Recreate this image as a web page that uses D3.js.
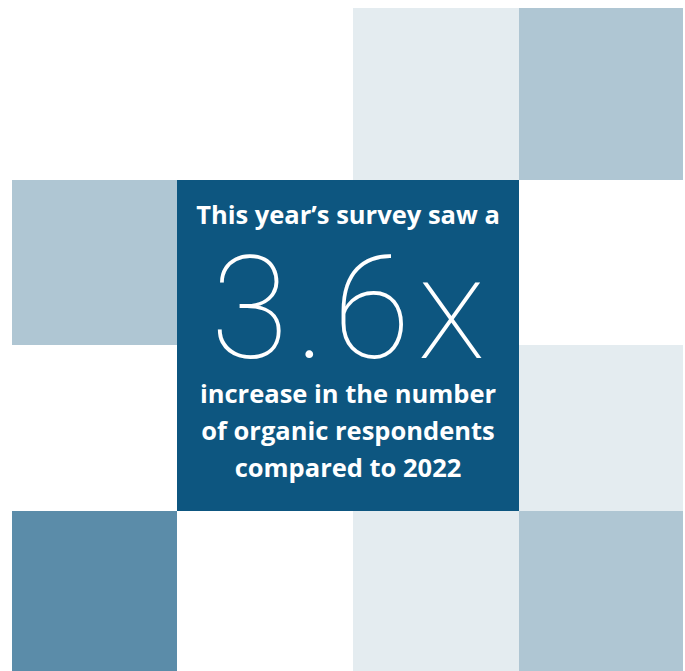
<!DOCTYPE html>
<html><head><meta charset="utf-8">
<script src="https://cdn.jsdelivr.net/npm/d3@7"></script>
<style>html,body{margin:0;padding:0;background:#fff;}svg{display:block;}</style>
</head><body>
<script>
// tile grid (row, col, shade) and the highlight box
const tileRow   = [0, 0, 1, 2, 3, 3, 3];
const tileCol   = [2, 3, 0, 3, 0, 2, 3];
const tileShade = ["pale", "light", "light", "pale", "mid", "pale", "light"];
const shadeNames  = ["pale", "light", "mid", "dark"];
const shadeColors = ["#e4ecf0", "#afc6d3", "#5b8ca9", "#0d5680"];
const headline    = ["This year\u2019s survey saw a"];
const bigValue    = [3.6];
const bigSuffix   = ["x"];
const bodyLines   = ["increase in the number", "of organic respondents", "compared to 2022"];

const W = 685, H = 671;
const svg = d3.select("body").append("svg").attr("width", W).attr("height", H);
const xEdge = d3.scaleOrdinal().domain([0,1,2,3,4]).range([12,177,353,519,683]);
const yEdge = d3.scaleOrdinal().domain([0,1,2,3,4]).range([8,180,345,511,671]);
const color = d3.scaleOrdinal().domain(shadeNames).range(shadeColors);

const tiles = tileRow.map((r,i)=>({r, c: tileCol[i], s: tileShade[i]}));
svg.selectAll("rect.tile").data(tiles).join("rect").attr("class","tile")
  .attr("x", d=>xEdge(d.c)).attr("y", d=>yEdge(d.r))
  .attr("width", d=>xEdge(d.c+1)-xEdge(d.c)).attr("height", d=>yEdge(d.r+1)-yEdge(d.r))
  .attr("fill", d=>color(d.s));

// highlight box spanning cols 1-2, rows 1-2
const box = {c0:1, c1:3, r0:1, r1:3};
svg.append("rect").attr("x", xEdge(box.c0)).attr("y", yEdge(box.r0))
  .attr("width", xEdge(box.c1)-xEdge(box.c0)).attr("height", yEdge(box.r1)-yEdge(box.r0))
  .attr("fill", color("dark"));

const cx = (xEdge(box.c0)+xEdge(box.c1))/2;
const font = "'Open Sans', Roboto, sans-serif";
svg.selectAll("text.head").data(headline).join("text").attr("class","head")
  .attr("x", cx).attr("y", 224).attr("text-anchor","middle")
  .attr("fill","#fff").attr("font-family",font).attr("font-weight",700).attr("font-size",25.5)
  .text(d=>d);
const ls = 7;
svg.append("text").attr("x", cx + ls/2).attr("y", 358).attr("text-anchor","middle")
  .attr("fill","#fff").attr("font-family","Roboto, sans-serif").attr("font-weight",100).attr("font-size",142)
  .attr("letter-spacing", ls)
  .text(d3.format(".1f")(bigValue[0]) + bigSuffix[0]);
svg.selectAll("text.body").data(bodyLines).join("text").attr("class","body")
  .attr("x", cx).attr("y", (d,i)=>403 + i*37).attr("text-anchor","middle")
  .attr("fill","#fff").attr("font-family",font).attr("font-weight",700).attr("font-size",25.5)
  .text(d=>d);
</script>
</body></html>
